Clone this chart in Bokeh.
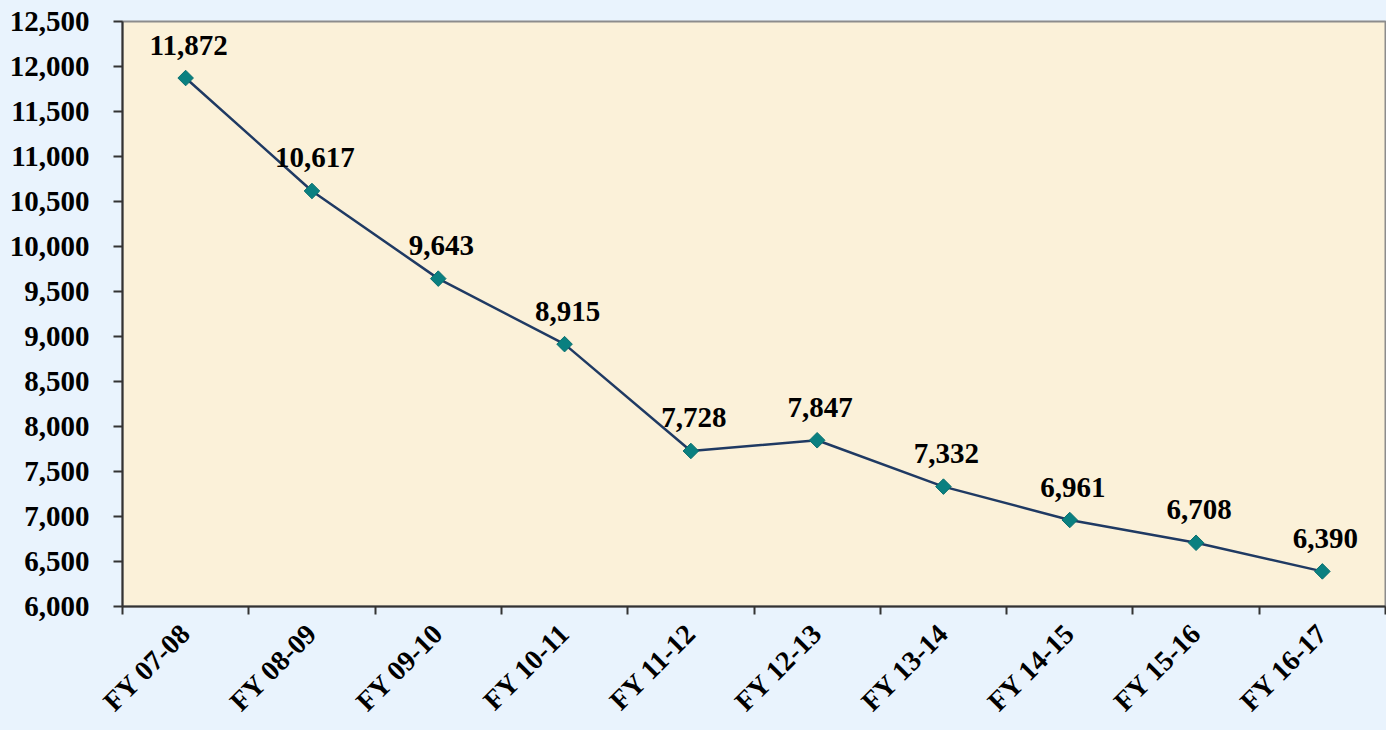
from bokeh.plotting import figure
from bokeh.models import ColumnDataSource, FixedTicker, NumeralTickFormatter, Range1d
from bokeh.core.properties import value
from bokeh.embed import file_html
from bokeh.resources import INLINE
import math

categories = ["FY 07-08", "FY 08-09", "FY 09-10", "FY 10-11", "FY 11-12",
              "FY 12-13", "FY 13-14", "FY 14-15", "FY 15-16", "FY 16-17"]
values = [11872, 10617, 9643, 8915, 7728, 7847, 7332, 6961, 6708, 6390]
y_ticks = list(range(6000, 12501, 500))

FONT = "Liberation Serif"
OUTER = "#E9F3FD"
INNER = "#FBF1D9"

xs = list(range(len(categories)))
src = ColumnDataSource(dict(x=xs, y=values, lbl=[f"{v:,}" for v in values]))

p = figure(width=1386, height=730, output_backend="svg", toolbar_location=None,
           x_range=Range1d(-0.5, len(categories) - 0.5), y_range=Range1d(6000, 12500),
           min_border_left=122, min_border_top=21, min_border_bottom=123, min_border_right=1)
p.background_fill_color = INNER
p.border_fill_color = OUTER
p.outline_line_color = "#8C8C8C"
p.outline_line_width = 2
p.grid.visible = False

p.line("x", "y", source=src, line_color="#1F3A63", line_width=2.5)
p.scatter("x", "y", source=src, marker="square", angle=math.pi / 4, size=11,
          fill_color="#0A8080", line_color="#0A7070", line_width=1)
p.text("x", "y", text="lbl", source=src, text_align="center", text_baseline="alphabetic",
       y_offset=-33, x_offset=3, text_font=value(FONT), text_font_style="bold",
       text_font_size="29px", text_color="black")

xa = p.xaxis[0]
xa.ticker = FixedTicker(ticks=xs, minor_ticks=[i - 0.5 for i in range(len(categories) + 1)])
xa.major_label_overrides = {i: c for i, c in enumerate(categories)}
xa.major_tick_out = 0
xa.major_tick_in = 0
xa.minor_tick_out = 8
xa.minor_tick_in = 0
xa.minor_tick_line_color = "#333333"
xa.minor_tick_line_width = 2
xa.major_label_orientation = math.pi / 4
xa.major_label_standoff = 14
xa.major_label_text_font = FONT
xa.major_label_text_font_style = "bold"
xa.major_label_text_font_size = "28px"
xa.major_label_text_color = "black"
xa.axis_line_color = "#333333"
xa.axis_line_width = 2

ya = p.yaxis[0]
ya.ticker = FixedTicker(ticks=y_ticks, minor_ticks=[])
ya.formatter = NumeralTickFormatter(format="0,0")
ya.major_tick_out = 9
ya.major_tick_in = 0
ya.major_tick_line_color = "#333333"
ya.major_tick_line_width = 2
ya.major_label_standoff = 24
ya.major_label_text_font = FONT
ya.major_label_text_font_style = "bold"
ya.major_label_text_font_size = "29px"
ya.major_label_text_color = "black"
ya.axis_line_color = "#333333"
ya.axis_line_width = 2

html = file_html(p, INLINE)
html = html.replace("</head>", f"<style>html,body{{margin:0;padding:0;background-color:{OUTER};overflow:hidden;}}</style></head>", 1)
open("out.html", "w").write(html)
